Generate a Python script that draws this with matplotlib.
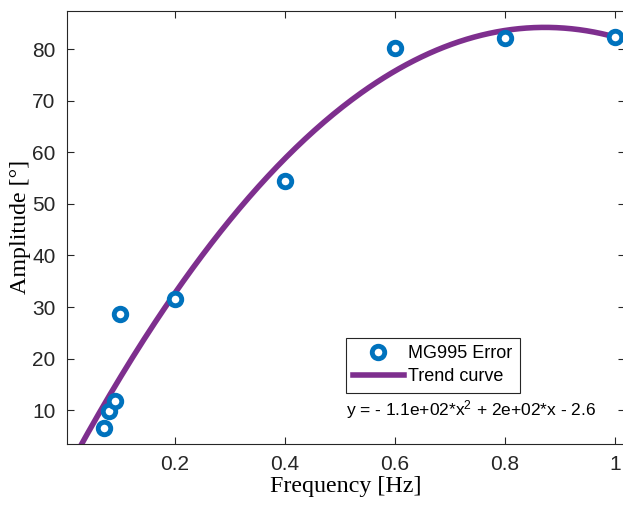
import numpy as np
import matplotlib
matplotlib.use("Agg")
from matplotlib import pyplot as plt

# measured amplitude vs. driving frequency
freq = [0.07, 0.08, 0.09, 0.10, 0.2, 0.4, 0.6, 0.8, 1.0]
amplitude = [6.6, 9.9, 11.8, 28.6, 31.5, 54.4, 80.3, 82.2, 82.4]

x_ticks = [0.2, 0.4, 0.6, 0.8, 1.0]
x_tick_labels = ["0.2", "0.4", "0.6", "0.8", "1"]
y_ticks = [10, 20, 30, 40, 50, 60, 70, 80]

plt.rcParams["font.family"] = ["Liberation Sans", "DejaVu Sans"]
plt.rcParams["mathtext.fontset"] = "custom"
plt.rcParams["mathtext.rm"] = "Liberation Sans"
plt.rcParams["mathtext.it"] = "Liberation Sans"

blue = (0.0, 0.447, 0.741)
purple = (0.494, 0.184, 0.556)
axis_grey = (0.15, 0.15, 0.15)

# second order trend through the measurements
coeffs = np.polyfit(freq, amplitude, 2)
x_fit = np.linspace(0.0, 1.02, 300)
y_fit = np.polyval(coeffs, x_fit)

fig = plt.figure(figsize=(6.23, 5.07), dpi=100)
ax = fig.add_axes([0.107, 0.124, 0.896, 0.855])

ax.plot(freq, amplitude, "o", ms=9, mfc="white", mec=blue, mew=3.5,
        ls="none", label="MG995 Error", zorder=3)
ax.plot(x_fit, y_fit, color=purple, lw=4, label="Trend curve", zorder=2)

ax.set_xlim(0.003, 1.018)
ax.set_ylim(3.4, 87.5)
ax.set_xticks(x_ticks)
ax.set_xticklabels(x_tick_labels)
ax.set_yticks(y_ticks)
ax.tick_params(direction="in", length=5, width=0.8, color=axis_grey,
               labelsize=15, labelcolor=axis_grey, top=True, right=True, pad=8)
for s in ax.spines.values():
    s.set_color(axis_grey)
    s.set_linewidth(0.8)

ax.set_xlabel("Frequency [Hz]", family=["Liberation Serif"], fontsize=17.3,
              color="black", labelpad=1)
ax.set_ylabel("Amplitude [°]", family=["Liberation Serif"], fontsize=17.3,
              color="black", labelpad=1)

leg = ax.legend(loc="upper left", bbox_to_anchor=(0.5, 0.245), fontsize=13,
                frameon=True, fancybox=False, framealpha=1, edgecolor=axis_grey,
                handlelength=2.8, handletextpad=0.25, borderpad=0.4,
                labelspacing=0.35, borderaxespad=0)
leg.get_frame().set_linewidth(0.8)

ax.text(0.5, 0.08, "y = - 1.1e+02*x$^2$ + 2e+02*x - 2.6", transform=ax.transAxes,
        fontsize=12.5, color="black", ha="left", va="center")

fig.savefig("out.png", dpi=100)
